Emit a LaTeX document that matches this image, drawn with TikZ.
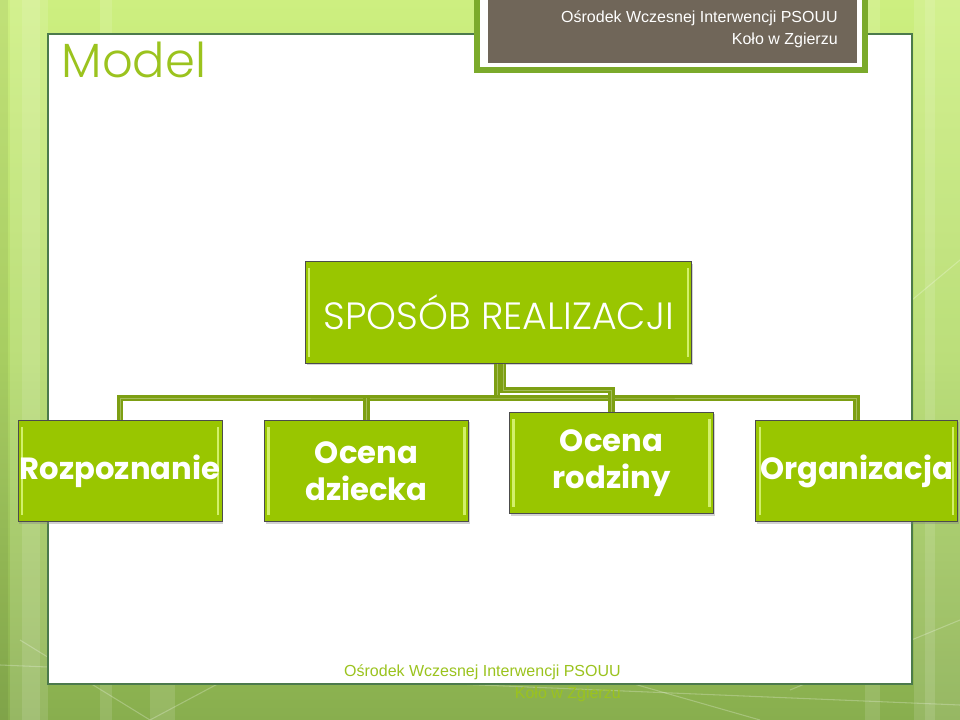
\documentclass[tikz,border=0pt]{standalone}
\usepackage{fontspec}
\setmainfont{Poppins}
\newfontfamily\lightfont{Poppins Light}
\newfontfamily\headfont{Liberation Sans}
\usetikzlibrary{positioning,shadows}
\definecolor{boxgreen}{HTML}{99C600}
\definecolor{bevel}{HTML}{D2F06A}
\definecolor{titlegreen}{HTML}{9BC31E}
\definecolor{headbrown}{HTML}{706659}
\definecolor{framegreen}{HTML}{7BAA2B}
\definecolor{conngreen}{HTML}{7D9F13}
\definecolor{bgtop}{HTML}{CDEF80}
\definecolor{bgmid}{HTML}{B2DA68}
\definecolor{bgbottom}{HTML}{88AE4E}
\tikzset{
  orgbox/.style={draw=black!70, line width=0.6pt, fill=boxgreen, text=white,
    minimum height=76pt, inner sep=0pt, align=center,
    drop shadow={shadow xshift=1pt, shadow yshift=-1.5pt, opacity=0.35},
    path picture={
      \draw[bevel, line width=1.6pt]
        ([xshift=3pt,yshift=5pt]path picture bounding box.south west) --
        ([xshift=3pt,yshift=-5pt]path picture bounding box.north west);
      \draw[bevel, line width=1.6pt]
        ([xshift=-3pt,yshift=5pt]path picture bounding box.south east) --
        ([xshift=-3pt,yshift=-5pt]path picture bounding box.north east);
    }},
  childbox/.style={orgbox, minimum width=153pt, font=\bfseries\fontsize{23}{28}\selectfont},
  conn/.style={draw=conngreen, line width=2.2pt, double=conngreen!70!white, double distance=0.6pt},
  stripe/.style={fill=white, opacity=0.12}
}
\begin{document}
\begin{tikzpicture}[x=0.75pt,y=-0.75pt]
\useasboundingbox (0,0) rectangle (960,720);
% background
\shade[top color=bgtop, bottom color=bgmid] (0,0) rectangle (960,360);
\shade[top color=bgmid, bottom color=bgbottom] (0,360) rectangle (960,720);
\fill[stripe] (10,0) rectangle (48,720);
\fill[stripe] (22,0) rectangle (40,720);
\fill[stripe] (100,0) rectangle (112,720);
\fill[stripe] (150,684) rectangle (175,720);
\fill[stripe] (914,0) rectangle (935,720);
\fill[stripe] (925,0) rectangle (960,720);
\fill[stripe] (865,0) rectangle (880,720);
\fill[black, opacity=0.06] (0,0) rectangle (8,720);
\draw[white, opacity=0.25, line width=0.8pt] (20,640) -- (150,720);
\draw[white, opacity=0.25, line width=0.8pt] (150,720) -- (300,640);
\draw[white, opacity=0.25, line width=0.8pt] (480,640) -- (760,720);
\draw[white, opacity=0.25, line width=0.8pt] (0,665) -- (960,705);
\draw[white, opacity=0.25, line width=0.8pt] (790,690) -- (960,620);
\draw[white, opacity=0.25, line width=0.8pt] (912,300) -- (960,260);
% panel
\draw[fill=white, draw=black!55!green!40!gray, line width=1.2pt] (48,34) rectangle (912,684);
\node[anchor=base west, text=titlegreen, font=\lightfont\fontsize{36}{40}\selectfont] (title) at (57,78) {Model};
% header
\draw[fill=white, draw=framegreen, line width=4pt] (477,-10) rectangle (865,70);
\fill[headbrown] (488,-10) rectangle (857,63);
\node[anchor=north east, align=right, text=white, inner sep=0pt,
  font=\headfont\fontsize{12}{17}\selectfont] (head) at (838,10)
  {Ośrodek Wczesnej Interwencji PSOUU\\Koło w Zgierzu};
% boxes
\node[orgbox, minimum width=290pt, font=\lightfont\fontsize{28.5}{30}\selectfont] (top) at (498.5,312.5) {SPOSÓB REALIZACJI};
\node[childbox] (roz) at (120,471) {Rozpoznanie};
\node[childbox] (dz) at (366.5,471) {Ocena\\dziecka};
\node[childbox] (rod) at (611.5,463) {Ocena\\rodziny};
\node[childbox, minimum width=151pt] (org) at (856.5,471) {Organizacja};
% connectors
\coordinate (bus) at (497,398);
\coordinate (rbend) at (503,390);
\draw[conn] (bus |- top.south) -- (bus);
\draw[conn] (roz.north) |- (bus) -| (org.north);
\draw[conn] (dz.north) -- (dz.north |- bus);
\draw[conn] (rbend |- top.south) -- (rbend) -| (rod.north);
% footer
\node[anchor=base east, text=titlegreen, inner sep=0pt, font=\headfont\fontsize{12}{14}\selectfont] (foot) at (621,676) {Ośrodek Wczesnej Interwencji PSOUU};
\node[anchor=north east, text=titlegreen, inner sep=0pt, font=\headfont\fontsize{12}{14}\selectfont, yshift=-5pt] (foot2) at (foot.south east) {Koło w Zgierzu};
\end{tikzpicture}
\end{document}
